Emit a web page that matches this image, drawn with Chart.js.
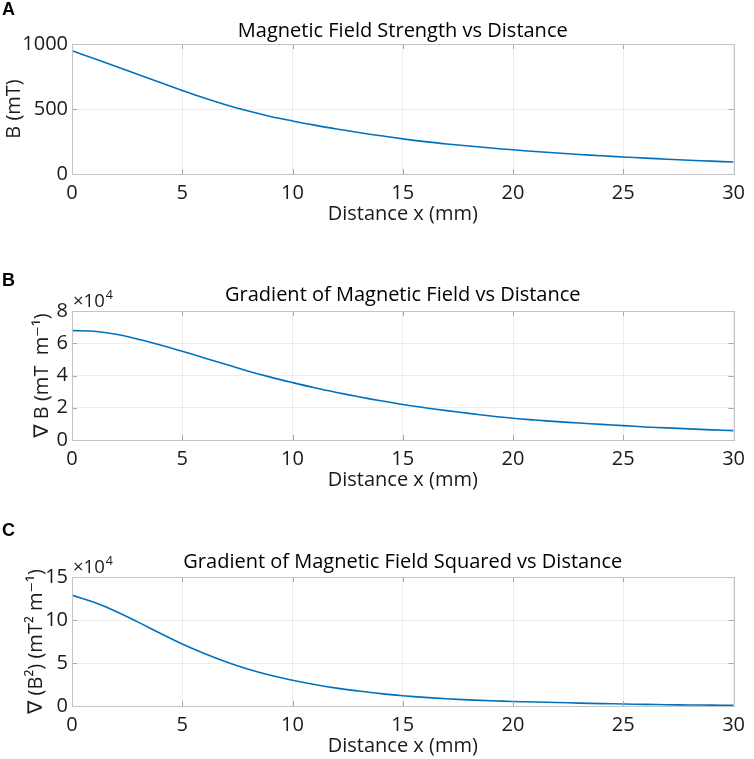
<!DOCTYPE html>
<html>
<head>
<meta charset="utf-8">
<script src="https://cdn.jsdelivr.net/npm/chart.js@4/dist/chart.umd.min.js"></script>
<style>
	html, body { margin: 0; padding: 0; background: #fff; }
	.panel { position: absolute; left: 0; width: 754px; }
</style>
</head>
<body>
<div class="panel" style="top:0px;height:240px"><canvas id="chart-a"></canvas></div>
<div class="panel" style="top:240px;height:260px"><canvas id="chart-b"></canvas></div>
<div class="panel" style="top:500px;height:259px"><canvas id="chart-c"></canvas></div>
<script>
// distance from magnet surface (mm)
const distance = [0, 1, 2, 3, 4, 5, 6, 7, 8, 9, 10, 11, 12, 13, 14, 15, 16, 17, 18, 19, 20, 21, 22, 23, 24, 25, 26, 27, 28, 29, 30];

// B (mT)
const fieldB = [948, 888, 827, 765, 703, 642, 584, 531, 484, 443, 408, 376, 346, 319, 294, 270, 249, 231, 215, 200, 186, 173, 161, 150, 140, 131, 122, 114, 106, 99, 92];

// gradient of B (mT m^-1)
const gradB = [67800, 67400, 65600, 62500, 58900, 55000, 50900, 46800, 42700, 39000, 35600, 32400, 29500, 26800, 24300, 22000, 20000, 18200, 16500, 14900, 13500, 12400, 11400, 10500, 9700, 8900, 8100, 7500, 6900, 6300, 5800];

// gradient of B squared (mT^2 m^-1)
const gradB2 = [129000, 120500, 110000, 97500, 84500, 72000, 61000, 51200, 42700, 35700, 30000, 25000, 20800, 17400, 14400, 12000, 10000, 8400, 7100, 6100, 5300, 4600, 4000, 3400, 2800, 2300, 1900, 1500, 1200, 1000, 800];

const titles = ['Magnetic Field Strength vs Distance', 'Gradient of Magnetic Field vs Distance', 'Gradient of Magnetic Field Squared vs Distance'];
const yLabels = ['B (mT)', '\u2207 B (mT  m\u207B\u00B9)', '\u2207 (B\u00B2) (mT\u00B2 m\u207B\u00B9)'];
const xLabel = 'Distance x (mm)';
const panelLetters = ['A', 'B', 'C'];

const FONT = "'Open Sans', 'DejaVu Sans', sans-serif";
const LINE = '#0072BD';
const FS = 20;

// draws box, inward ticks, panel letter and the x10^4 exponent
const decorPlugin = {
	id: 'decor',
	afterDraw(chart, args, opts) {
		const ctx = chart.ctx;
		const a = chart.chartArea;
		const xs = chart.scales.x;
		const ys = chart.scales.y;
		ctx.save();

		ctx.strokeStyle = '#a6a6a6';
		ctx.lineWidth = 1;
		const tl = 5;
		ctx.beginPath();
		xs.ticks.forEach(t => {
			const px = Math.round(xs.getPixelForValue(t.value)) + 0.5;
			ctx.moveTo(px, a.bottom); ctx.lineTo(px, a.bottom - tl);
			ctx.moveTo(px, a.top); ctx.lineTo(px, a.top + tl);
		});
		ys.ticks.forEach(t => {
			const py = Math.round(ys.getPixelForValue(t.value)) + 0.5;
			ctx.moveTo(a.left, py); ctx.lineTo(a.left + tl, py);
			ctx.moveTo(a.right, py); ctx.lineTo(a.right - tl, py);
		});
		ctx.stroke();

		ctx.strokeStyle = '#c4c4c4';
		ctx.strokeRect(Math.round(a.left) + 0.5, Math.round(a.top) + 0.5, Math.round(a.right - a.left), Math.round(a.bottom - a.top));

		ctx.fillStyle = '#000';
		ctx.font = "bold 18px 'Liberation Sans', Arial, sans-serif";
		ctx.textBaseline = 'alphabetic';
		ctx.textAlign = 'left';
		ctx.fillText(opts.letter, 2, opts.letterY);

		if (opts.exponent) {
			ctx.fillStyle = '#1a1a1a';
			ctx.font = '18.5px ' + FONT;
			ctx.textBaseline = 'middle';
			ctx.fillText('\u00D710', a.left + 1, a.top - 9);
			const w = ctx.measureText('\u00D710').width;
			ctx.font = '12.5px ' + FONT;
			ctx.fillText(opts.exponent, a.left + 1 + w + 1, a.top - 16);
		}
		ctx.restore();
	}
};

function makePanel(id, idx, values, p) {
	const tickFont = { family: FONT, size: FS, lineHeight: 1 };
	const labelFont = { family: FONT, size: FS, lineHeight: 1 };
	const titleLh = FS * 1.2;
	const points = distance.map((d, i) => ({ x: d, y: values[i] }));

	return new Chart(document.getElementById(id), {
		type: 'line',
		data: {
			datasets: [{
				data: points,
				borderColor: LINE,
				borderWidth: 1.6,
				pointRadius: 0,
				tension: 0.4,
				fill: false
			}]
		},
		options: {
			responsive: true,
			maintainAspectRatio: false,
			animation: false,
			events: [],
			layout: { padding: { left: 0, right: 13, top: 0, bottom: 0 } },
			plugins: {
				legend: { display: false },
				tooltip: { enabled: false },
				title: {
					display: true,
					text: titles[idx],
					fullSize: false,
					color: '#000',
					font: { family: FONT, size: FS, weight: 'normal', lineHeight: 1.2 },
					padding: { top: p.titleY - titleLh / 2, bottom: p.plotTop - p.titleY - titleLh / 2 }
				},
				decor: { letter: panelLetters[idx], letterY: p.letterY, exponent: p.exponent }
			},
			scales: {
				x: {
					type: 'linear',
					min: 0,
					max: 30,
					ticks: { stepSize: 5, color: '#1a1a1a', font: tickFont, padding: 9, maxRotation: 0 },
					grid: { color: 'rgba(0,0,0,0.07)', drawTicks: false },
					border: { display: false },
					title: {
						display: true,
						text: xLabel,
						color: '#1a1a1a',
						font: labelFont,
						padding: { top: 0, bottom: p.canvasH - p.plotBottom - 40 - FS / 2 }
					},
					afterFit(scale) { scale.height = p.canvasH - p.plotBottom; }
				},
				y: {
					min: 0,
					max: p.yMax,
					ticks: {
						stepSize: p.yStep,
						color: '#1a1a1a',
						font: tickFont,
						padding: 4,
						callback: v => p.scale ? v / p.scale : v
					},
					grid: { color: 'rgba(0,0,0,0.07)', drawTicks: false },
					border: { display: false },
					title: {
						display: true,
						text: yLabels[idx],
						color: '#1a1a1a',
						font: labelFont,
						padding: { top: p.yTitleX - FS / 2, bottom: 0 }
					},
					afterFit(scale) { scale.width = 72; }
				}
			}
		},
		plugins: [decorPlugin]
	});
}

makePanel('chart-a', 0, fieldB, {
	canvasH: 240, plotTop: 44, plotBottom: 174, titleY: 31, letterY: 15,
	yMax: 1000, yStep: 500, scale: 0, yTitleX: 14
});
makePanel('chart-b', 1, gradB, {
	canvasH: 260, plotTop: 71, plotBottom: 200, titleY: 55, letterY: 46,
	yMax: 80000, yStep: 20000, scale: 10000, exponent: '4', yTitleX: 42
});
makePanel('chart-c', 2, gradB2, {
	canvasH: 259, plotTop: 77, plotBottom: 206, titleY: 62, letterY: 36,
	yMax: 150000, yStep: 50000, scale: 10000, exponent: '4', yTitleX: 36
});
</script>
</body>
</html>
